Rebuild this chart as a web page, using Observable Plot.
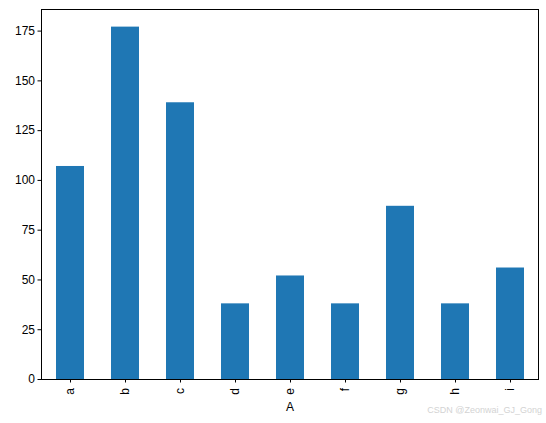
<!DOCTYPE html>
<html>
<head>
<meta charset="utf-8">
<script src="https://cdn.jsdelivr.net/npm/d3@7"></script>
<script src="https://cdn.jsdelivr.net/npm/@observablehq/plot@0.6"></script>
<style>
  html, body { margin: 0; padding: 0; background: #fff; }
  #wrap { position: relative; width: 546px; height: 423px; }
  #wm { position: absolute; right: 4px; top: 405px; font: 9px "Liberation Sans", Arial, sans-serif; color: #d3d3d3; }
</style>
</head>
<body>
<div id="wrap"><div id="wm">CSDN @Zeonwai_GJ_Gong</div></div>
<script>
const categories = ["a", "b", "c", "d", "e", "f", "g", "h", "i"];
const values = [107, 177, 139, 38, 52, 38, 87, 38, 56];
const yTicks = [0, 25, 50, 75, 100, 125, 150, 175];
const xLabel = "A";

const data = categories.map((c, i) => ({cat: c, val: values[i]}));
const maxV = d3.max(values);

const chart = Plot.plot({
  width: 546,
  height: 423,
  marginLeft: 41,
  marginTop: 9,
  marginRight: 8,
  marginBottom: 44,
  style: {fontFamily: "'Liberation Sans', Arial, sans-serif", fontSize: "12px", color: "#000", background: "#fff"},
  x: {domain: categories, paddingInner: 0.5, paddingOuter: 0.25},
  y: {domain: [0, maxV * 1.05]},
  marks: [
    Plot.barY(data, {x: "cat", y: "val", fill: "#1f77b4"}),
    Plot.frame({stroke: "#000", strokeWidth: 1}),
    Plot.axisY({ticks: yTicks, tickSize: 3.5, tickPadding: 3, label: null, fontSize: 12}),
    Plot.axisX({tickSize: 3.5, tickPadding: 5, tickRotate: -90, label: xLabel, labelAnchor: "center", labelArrow: "none", labelOffset: 31, fontSize: 12})
  ]
});
document.getElementById("wrap").prepend(chart);
</script>
</body>
</html>
